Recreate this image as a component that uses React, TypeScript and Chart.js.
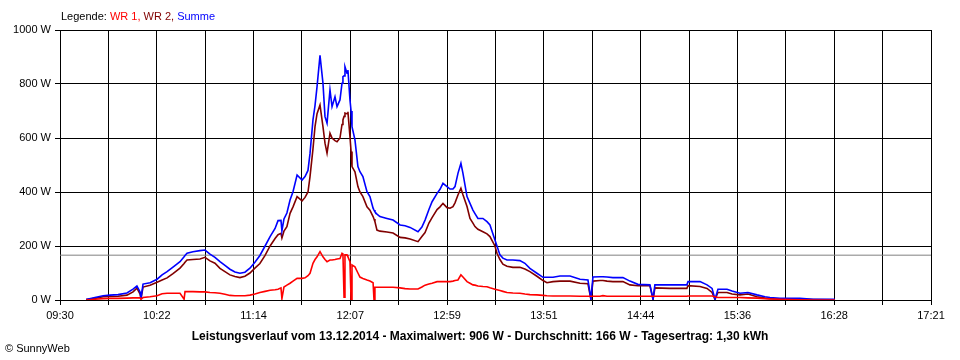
import React, { useEffect, useRef } from 'react';
import { Chart, registerables } from 'chart.js';

Chart.register(...registerables);

// Minutes after 09:30
const timeMinutes = [
  14.1, 18.9, 23.3, 27.0, 31.4, 36.2, 39.5, 41.6, 43.3, 43.8, 44.9, 48.7, 52.5, 55.2, 57.9, 61.1, 64.9, 67.1, 67.6, 68.7,
  71.9, 75.7, 78.4, 81.1, 83.8, 86.5, 89.2, 91.9, 94.6, 97.3, 100.0, 102.7, 105.4, 108.1, 110.9, 113.6, 116.3, 117.9, 119.5, 120.0,
  121.1, 122.7, 124.4, 126.0, 128.2, 130.9, 132.5, 134.1, 135.2, 136.8, 137.9, 139.0, 140.6, 142.2, 143.3, 144.4, 146.0, 147.1, 148.7, 149.8,
  151.4, 152.5, 153.0, 153.6, 154.1, 155.2, 155.7, 156.8, 157.4, 157.9, 159.5, 161.1, 162.2, 163.8, 166.0, 167.6, 169.3, 169.8, 170.3, 171.4,
  173.0, 176.8, 180.1, 183.9, 186.6, 189.3, 193.6, 195.7, 197.4, 199.5, 201.2, 203.9, 205.5, 207.1, 209.3, 210.9, 212.5, 213.6, 215.2, 216.8,
  217.9, 220.1, 221.7, 223.3, 224.4, 226.0, 228.7, 230.9, 232.5, 235.2, 236.3, 237.9, 239.5, 241.7, 244.9, 248.7, 251.4, 254.1, 257.9, 261.2,
  263.3, 266.6, 270.4, 275.8, 281.2, 285.5, 287.1, 288.2, 292.0, 293.6, 295.8, 299.0, 304.4, 308.2, 312.5, 319.0, 320.7, 321.7, 329.8, 339.0,
  339.6, 346.1, 349.9, 352.6, 354.2, 355.8, 360.7, 363.4, 367.7, 372.0, 376.9, 381.2, 383.9, 389.3, 400.1, 407.2, 419.1,
];

const summe = [
  2, 9, 16, 18, 20, 26, 40, 52, 30, 7, 59, 64, 77, 93, 105, 122, 142, 160, 165, 173,
  179, 183, 185, 170, 158, 142, 128, 114, 104, 99, 103, 118, 140, 165, 200, 235, 265, 294, 295, 256,
  300, 322, 370, 401, 463, 444, 457, 480, 543, 667, 720, 790, 906, 803, 679, 655, 778, 716, 753, 716,
  741, 803, 827, 830, 864, 840, 852, 741, 700, 642, 593, 494, 475, 457, 401, 383, 340, 333, 327, 318,
  309, 302, 296, 278, 275, 269, 253, 270, 296, 335, 364, 395, 410, 432, 420, 411, 411, 420, 469, 506,
  469, 383, 358, 333, 320, 302, 302, 290, 278, 222, 200, 167, 155, 148, 148, 146, 136, 117, 99, 84,
  84, 84, 89, 89, 77, 74, 3, 85, 86, 86, 85, 83, 83, 70, 58, 56, 3, 56, 56, 56,
  68, 68, 56, 43, 3, 40, 40, 33, 25, 28, 19, 12, 9, 6, 6, 3, 3,
];

const wr2 = [
  2, 6, 12, 13, 14, 18, 30, 44, 22, 4, 48, 55, 66, 74, 82, 98, 118, 135, 140, 148,
  150, 152, 158, 145, 136, 117, 105, 93, 87, 83, 88, 100, 118, 135, 165, 200, 228, 242, 247, 230,
  255, 272, 321, 345, 383, 367, 380, 400, 457, 560, 642, 690, 722, 642, 581, 544, 618, 600, 590, 586,
  600, 650, 667, 680, 692, 690, 697, 605, 550, 494, 475, 420, 400, 383, 345, 333, 309, 300, 290, 259,
  255, 252, 248, 232, 230, 226, 216, 235, 250, 285, 305, 335, 345, 358, 342, 340, 346, 360, 389, 414,
  390, 346, 302, 285, 272, 262, 253, 245, 235, 200, 173, 150, 133, 125, 121, 121, 115, 105, 88, 72,
  64, 68, 70, 70, 62, 60, 2, 70, 72, 72, 70, 68, 68, 56, 53, 53, 2, 45, 43, 43,
  53, 50, 43, 28, 2, 28, 28, 22, 19, 22, 12, 7, 5, 3, 3, 2, 1,
];

const wr1 = [
  0, 3, 5, 6, 6, 7, 8, 8, 8, 3, 9, 12, 16, 23, 25, 25, 25, 3, 31, 31,
  31, 30, 30, 28, 27, 25, 21, 17, 16, 16, 16, 18, 22, 28, 32, 36, 38, 40, 45, 5,
  48, 55, 62, 70, 80, 80, 82, 90, 99, 136, 150, 160, 179, 160, 150, 142, 148, 148, 150, 152,
  154, 173, 170, 10, 167, 167, 160, 142, 0, 130, 123, 100, 85, 80, 74, 70, 64, 0, 47, 47,
  47, 47, 47, 45, 42, 41, 41, 48, 55, 59, 62, 68, 68, 68, 68, 68, 70, 72, 74, 93,
  85, 68, 62, 56, 55, 52, 50, 49, 45, 40, 38, 35, 32, 28, 26, 25, 22, 20, 19, 17,
  16, 15, 15, 15, 14, 14, 14, 14, 14, 16, 14, 14, 14, 14, 14, 14, 14, 14, 14, 14,
  15, 15, 15, 15, 12, 9, 9, 9, 9, 8, 7, 5, 4, 3, 1, 0, 0,
];

const averageW = 166;
const xTickLabels = ['09:30', '10:22', '11:14', '12:07', '12:59', '13:51', '14:44', '15:36', '16:28', '17:21'];
const yTickValues = [0, 200, 400, 600, 800, 1000];
const spanMinutes = 471;
const gridDivisions = 18;

const legendParts = [
  { text: 'Legende: ', color: '#000000' },
  { text: 'WR 1, ', color: '#ff0000' },
  { text: 'WR 2, ', color: '#800000' },
  { text: 'Summe', color: '#0000ff' },
];
const titleText = 'Leistungsverlauf vom 13.12.2014 - Maximalwert: 906 W - Durchschnitt: 166 W - Tagesertrag: 1,30 kWh';
const copyrightText = '© SunnyWeb';

const FONT = '"Liberation Sans", Arial, sans-serif';

const textPlugin = {
  id: 'sunnyTexts',
  afterDraw(chart: any) {
    const ctx = chart.ctx as CanvasRenderingContext2D;
    ctx.save();
    ctx.textBaseline = 'middle';
    ctx.font = `11px ${FONT}`;
    let x = 61;
    for (const p of legendParts) {
      ctx.fillStyle = p.color;
      ctx.textAlign = 'left';
      ctx.fillText(p.text, x, 17);
      x += ctx.measureText(p.text).width;
    }
    ctx.fillStyle = '#000';
    ctx.textAlign = 'left';
    ctx.fillText(copyrightText, 5, 349);
    ctx.font = `bold 12px ${FONT}`;
    ctx.textAlign = 'center';
    ctx.fillText(titleText, 480, 337);
    ctx.restore();
  },
};

const toPoints = (vals: number[]) => vals.map((v, i) => ({ x: timeMinutes[i], y: v }));

export default function App() {
  const ref = useRef<HTMLCanvasElement | null>(null);
  useEffect(() => {
    if (!ref.current) return;
    Chart.defaults.font.family = FONT;
    const chart = new Chart(ref.current, {
      type: 'line',
      data: {
        datasets: [
          { label: 'WR 1', data: toPoints(wr1), borderColor: '#ff0000', borderWidth: 1.6, order: 1 },
          { label: 'Summe', data: toPoints(summe), borderColor: '#0000ff', borderWidth: 1.6, order: 2 },
          { label: 'WR 2', data: toPoints(wr2), borderColor: '#800000', borderWidth: 1.6, order: 3 },
          {
            label: 'Durchschnitt',
            data: [{ x: 0, y: averageW }, { x: spanMinutes, y: averageW }],
            borderColor: '#808080',
            borderWidth: 1,
            order: 4,
          },
        ],
      },
      options: {
        animation: false,
        responsive: false,
        maintainAspectRatio: false,
        layout: { padding: { left: 0, top: 30, right: 29, bottom: 0 } },
        plugins: { legend: { display: false }, tooltip: { enabled: false }, title: { display: false } },
        elements: { point: { radius: 0 }, line: { tension: 0, fill: false } },
        scales: {
          x: {
            type: 'linear',
            min: 0,
            max: spanMinutes,
            afterBuildTicks: (s: any) => {
              s.ticks = Array.from({ length: gridDivisions + 1 }, (_, i) => ({ value: (i * spanMinutes) / gridDivisions }));
            },
            afterFit: (s: any) => {
              s.height = 60;
              s.paddingLeft = 0;
              s.paddingRight = 0;
            },
            ticks: {
              autoSkip: false,
              maxRotation: 0,
              minRotation: 0,
              color: '#000',
              padding: 4,
              font: { size: 11, family: FONT },
              callback: (_v: any, i: number) => (i % 2 === 0 ? xTickLabels[i / 2] : ''),
            },
            grid: { color: '#000', lineWidth: 1, tickLength: 5, drawTicks: true },
            border: { color: '#000', width: 1 },
          },
          y: {
            type: 'linear',
            min: 0,
            max: 1000,
            afterBuildTicks: (s: any) => {
              s.ticks = yTickValues.map((v) => ({ value: v }));
            },
            afterFit: (s: any) => {
              s.width = 60;
              s.paddingTop = 0;
              s.paddingBottom = 0;
            },
            ticks: {
              color: '#000',
              padding: 4,
              font: { size: 11, family: FONT },
              callback: (v: any) => `${v} W`,
            },
            grid: { color: '#000', lineWidth: 1, tickLength: 5, drawTicks: true },
            border: { color: '#000', width: 1 },
          },
        },
      },
      plugins: [textPlugin],
    });
    return () => chart.destroy();
  }, []);
  return (
    <div style={{ position: 'absolute', left: 0, top: 0, width: 960, height: 360, background: '#fff' }}>
      <canvas ref={ref} width={960} height={360} style={{ display: 'block' }} />
    </div>
  );
}
